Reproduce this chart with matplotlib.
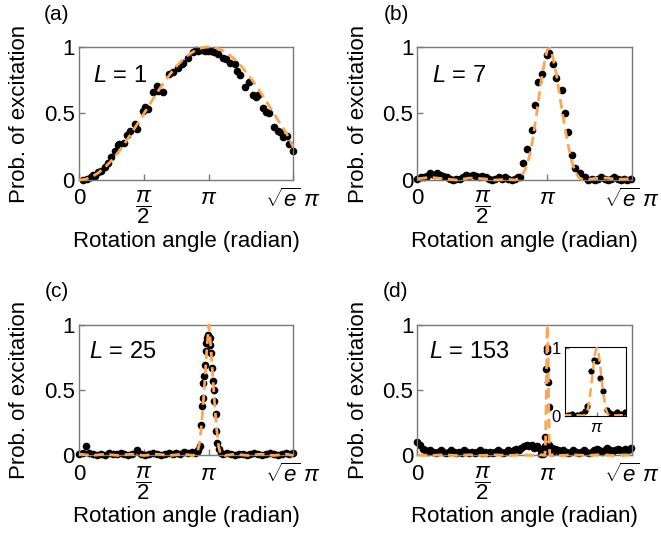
"""Four-panel excitation probability vs rotation angle (L = 1, 7, 25, 153)."""
import matplotlib
matplotlib.use("Agg")
import matplotlib.pyplot as plt
import numpy as np

plt.rcParams["font.family"] = ["Liberation Sans", "DejaVu Sans"]
plt.rcParams["mathtext.fontset"] = "custom"
plt.rcParams["mathtext.rm"] = "Liberation Sans"
plt.rcParams["mathtext.it"] = "Liberation Sans:italic"

ORANGE = "#ffa54f"
XMAX = np.sqrt(np.e)  # axis end, in units of pi

# ---- panel (a), L = 1 : angle in units of pi ----
a_x = [0.03, 0.06, 0.09, 0.11, 0.12, 0.15, 0.17, 0.2, 0.22, 0.25, 0.28, 0.3, 0.31,
       0.35, 0.37, 0.39, 0.43, 0.45, 0.49, 0.51, 0.53, 0.57, 0.6, 0.61, 0.65,
       0.69, 0.72, 0.76, 0.79, 0.8, 0.84, 0.88, 0.9, 0.92, 0.95, 0.97, 0.99,
       1.02, 1.04, 1.07, 1.11, 1.13, 1.16, 1.2, 1.22, 1.24, 1.28, 1.31, 1.34,
       1.36, 1.38, 1.42, 1.44, 1.46, 1.5, 1.53, 1.55, 1.57, 1.6, 1.62, 1.645]
a_y = [0.0, 0.005, 0.02, 0.04, 0.03, 0.06, 0.07, 0.1, 0.13, 0.17, 0.22, 0.26, 0.27,
       0.28, 0.34, 0.37, 0.42, 0.38, 0.52, 0.55, 0.53, 0.66, 0.71, 0.67, 0.66,
       0.8, 0.81, 0.84, 0.87, 0.88, 0.92, 0.96, 0.98, 0.97, 0.98, 0.97, 0.97,
       0.97, 0.96, 0.95, 0.92, 0.91, 0.88, 0.87, 0.82, 0.79, 0.7, 0.74, 0.64,
       0.62, 0.64, 0.54, 0.51, 0.5, 0.4, 0.37, 0.36, 0.32, 0.33, 0.27, 0.22]
a_fit_x = [0, 0.05, 0.1, 0.15, 0.2, 0.25, 0.3, 0.35, 0.4, 0.45, 0.5, 0.55, 0.6,
           0.65, 0.7, 0.75, 0.8, 0.85, 0.9, 0.95, 1.0, 1.05, 1.1, 1.15, 1.2,
           1.25, 1.3, 1.35, 1.4, 1.45, 1.5, 1.55, 1.6, 1.6487]
a_fit_y = [0, 0.006, 0.025, 0.055, 0.096, 0.146, 0.206, 0.273, 0.346, 0.422,
           0.5, 0.578, 0.655, 0.727, 0.794, 0.854, 0.905, 0.946, 0.976, 0.994,
           1.0, 0.994, 0.976, 0.946, 0.905, 0.854, 0.794, 0.727, 0.655, 0.578,
           0.5, 0.422, 0.346, 0.25]

# ---- panel (b), L = 7 ----
b_x = [0.0, 0.025, 0.05, 0.075, 0.1, 0.125, 0.15, 0.175, 0.2, 0.225, 0.25, 0.275,
       0.3, 0.325, 0.35, 0.375, 0.4, 0.425, 0.45, 0.475, 0.5, 0.525, 0.55, 0.575,
       0.6, 0.625, 0.65, 0.675, 0.7, 0.725, 0.75, 0.775,
       0.79, 0.815, 0.841, 0.88, 0.905, 0.931, 0.957, 0.995, 1.015, 1.041,
       1.067, 1.111, 1.136, 1.161, 1.188, 1.213, 1.252, 1.29,
       1.315, 1.34, 1.365, 1.39, 1.415, 1.44, 1.465, 1.49, 1.515, 1.54, 1.565,
       1.59, 1.615, 1.64]
b_y = [0.01, 0.02, 0.02, 0.03, 0.05, 0.04, 0.05, 0.04, 0.03, 0.02, 0.01, 0.0,
       0.01, 0.01, 0.02, 0.04, 0.03, 0.04, 0.03, 0.02, 0.03, 0.02, 0.01, 0.0,
       0.01, 0.02, 0.01, 0.02, 0.01, 0.0, 0.01, 0.02,
       0.025, 0.125, 0.235, 0.376, 0.564, 0.739, 0.8, 0.94, 0.957, 0.872,
       0.765, 0.677, 0.506, 0.363, 0.188, 0.088, 0.05, 0.02,
       0.0, 0.01, 0.0, 0.01, 0.02, 0.01, 0.0, 0.01, 0.02, 0.01, 0.0,
       0.01, 0.0, 0.01]
b_fit_x = [0, 0.1, 0.2, 0.3, 0.4, 0.5, 0.6, 0.7, 0.75, 0.78, 0.8, 0.83, 0.86,
           0.89, 0.92, 0.95, 0.98, 1.0, 1.02, 1.04, 1.07, 1.1, 1.13, 1.16, 1.19,
           1.22, 1.25, 1.28, 1.35, 1.45, 1.55, 1.6487]
b_fit_y = [0.01, 0.02, 0.01, 0.0, 0.015, 0.01, 0.0, 0.005, 0.0, 0.01, 0.03,
           0.08, 0.17, 0.32, 0.52, 0.73, 0.9, 0.98, 0.99, 0.93, 0.79, 0.6, 0.42,
           0.26, 0.13, 0.05, 0.01, 0.0, 0.01, 0.015, 0.005, 0.01]

# ---- panel (c), L = 25 ----
c_x = [0.0, 0.03, 0.056, 0.08, 0.11, 0.14, 0.17, 0.2, 0.23, 0.26, 0.29, 0.32,
       0.35, 0.38, 0.41, 0.45, 0.48, 0.51, 0.54, 0.57, 0.6, 0.63, 0.66, 0.69,
       0.72, 0.75, 0.78, 0.81, 0.84, 0.87, 0.89, 0.91, 0.92,
       0.933, 0.941, 0.948, 0.953, 0.958, 0.964, 0.969, 0.974, 0.979, 0.984,
       0.995, 1.005, 1.01, 1.018, 1.026, 1.031, 1.036, 1.043, 1.051, 1.057,
       1.064, 1.077, 1.09, 1.11, 1.14, 1.17, 1.2, 1.23, 1.26, 1.29, 1.32, 1.35,
       1.38, 1.41, 1.44, 1.47, 1.5, 1.53, 1.56, 1.59, 1.62, 1.645]
c_y = [0.01, 0.02, 0.07, 0.02, 0.01, 0.0, 0.01, 0.0, 0.02, 0.01, 0.01, 0.02,
       0.01, 0.0, 0.01, 0.04, 0.01, 0.0, 0.01, 0.02, 0.01, 0.0, 0.01, 0.02,
       0.01, 0.02, 0.01, 0.03, 0.02, 0.03, 0.02, 0.03, 0.04,
       0.072, 0.237, 0.378, 0.441, 0.556, 0.607, 0.696, 0.798, 0.862, 0.9,
       0.92, 0.9, 0.849, 0.786, 0.671, 0.569, 0.505, 0.416, 0.314, 0.187,
       0.097, 0.046, 0.02, 0.01, 0.02, 0.01, 0.0, 0.01, 0.01, 0.0, 0.01, 0.02,
       0.01, 0.0, 0.01, 0.02, 0.01, 0.0, 0.01, 0.02, 0.01, 0.02]
c_fit_x = [0, 0.1, 0.2, 0.3, 0.4, 0.5, 0.6, 0.7, 0.8, 0.88, 0.91, 0.925, 0.94,
           0.955, 0.97, 0.985, 1.0, 1.015, 1.03, 1.045, 1.06, 1.075, 1.09, 1.12,
           1.2, 1.3, 1.4, 1.5, 1.6, 1.6487]
c_fit_y = [0.01, 0.0, 0.01, 0.0, 0.01, 0.0, 0.01, 0.0, 0.01, 0.0, 0.02, 0.08,
           0.2, 0.38, 0.6, 0.83, 1.0, 0.83, 0.6, 0.38, 0.2, 0.07, 0.01, 0.0,
           0.01, 0.0, 0.01, 0.0, 0.01, 0.0]

# ---- panel (d), L = 153 ----
d_x = [0.0, 0.02, 0.04, 0.06, 0.08, 0.1, 0.12, 0.14, 0.16, 0.18, 0.2, 0.22,
       0.24, 0.26, 0.28, 0.3, 0.32, 0.34, 0.36, 0.38, 0.4, 0.42, 0.44, 0.46,
       0.48, 0.5, 0.52, 0.54, 0.56, 0.58, 0.6, 0.62, 0.64, 0.66, 0.68, 0.7,
       0.72, 0.74, 0.76, 0.78, 0.8, 0.82, 0.84, 0.86, 0.88, 0.9, 0.92, 0.94,
       0.953, 0.96, 0.967, 0.974, 0.98, 0.984, 0.99, 0.996, 1.0, 1.005, 1.01,
       1.016, 1.022, 1.028, 1.034, 1.04, 1.046,
       1.06, 1.08, 1.1, 1.12, 1.14, 1.16, 1.18, 1.2, 1.22, 1.24, 1.26, 1.28,
       1.3, 1.32, 1.34, 1.36, 1.38, 1.4, 1.42, 1.44, 1.46, 1.48, 1.5, 1.52,
       1.54, 1.56, 1.58, 1.6, 1.62, 1.64]
d_y = [0.1, 0.08, 0.05, 0.04, 0.03, 0.04, 0.03, 0.02, 0.03, 0.04, 0.03, 0.02,
       0.03, 0.04, 0.03, 0.02, 0.03, 0.02, 0.04, 0.03, 0.02, 0.03, 0.02, 0.03,
       0.04, 0.02, 0.03, 0.02, 0.03, 0.02, 0.03, 0.04, 0.03, 0.02, 0.03, 0.04,
       0.03, 0.04, 0.05, 0.04, 0.06, 0.07, 0.08, 0.07, 0.08, 0.06, 0.07, 0.05,
       0.01, 0.02, 0.01, 0.03, 0.07, 0.14, 0.66, 0.82, 0.8, 0.56, 0.37,
       0.08, 0.04, 0.03, 0.06, 0.03, 0.05,
       0.05, 0.04, 0.03, 0.04, 0.03, 0.02, 0.03, 0.04, 0.03, 0.02, 0.03, 0.04,
       0.03, 0.02, 0.03, 0.04, 0.05, 0.04, 0.03, 0.04, 0.06, 0.04, 0.03, 0.04,
       0.05, 0.04, 0.03, 0.05, 0.04, 0.06]
d_fit_x = [0, 0.1, 0.2, 0.3, 0.4, 0.5, 0.6, 0.7, 0.8, 0.9, 0.96, 0.978, 0.982,
           0.986, 0.99, 0.994, 0.997, 1.0, 1.003, 1.006, 1.01, 1.014, 1.018,
           1.022, 1.04, 1.1, 1.2, 1.3, 1.4, 1.5, 1.6, 1.6487]
d_fit_y = [0.005, 0.0, 0.005, 0.0, 0.005, 0.0, 0.005, 0.0, 0.005, 0.0, 0.005,
           0.0, 0.02, 0.12, 0.38, 0.7, 0.92, 1.0, 0.92, 0.7, 0.38, 0.12, 0.02,
           0.0, 0.005, 0.0, 0.005, 0.0, 0.005, 0.0, 0.005, 0.0]

panels = [
    ("(a)", "1", a_x, a_y, a_fit_x, a_fit_y),
    ("(b)", "7", b_x, b_y, b_fit_x, b_fit_y),
    ("(c)", "25", c_x, c_y, c_fit_x, c_fit_y),
    ("(d)", "153", d_x, d_y, d_fit_x, d_fit_y),
]
# axes rectangles in figure fractions
rects = [
    [0.1195, 0.666, 0.324, 0.247],
    [0.6316, 0.666, 0.324, 0.247],
    [0.1195, 0.155, 0.324, 0.242],
    [0.6316, 0.155, 0.324, 0.242],
]
letter_pos = [(0.086, 0.974), (0.599, 0.974), (0.086, 0.46), (0.599, 0.46)]
L_pos = [(0.065, 0.737), (0.067, 0.737), (0.047, 0.745), (0.055, 0.745)]

fig = plt.figure(figsize=(6.61, 5.39), dpi=100)


def style(ax, fs=16, ticklen=4, xpad=6):
    for s in ax.spines.values():
        s.set_color("#7a7a7a")
        s.set_linewidth(1.0)
    ax.tick_params(direction="in", length=ticklen, width=1.0, color="#7a7a7a",
                   labelsize=fs, pad=3)
    ax.tick_params(axis="x", pad=xpad)


for (letter, L, x, y, fx, fy), rect, lp, Lp in zip(panels, rects, letter_pos, L_pos):
    ax = fig.add_axes(rect)
    ax.plot(x, y, "o", color="black", ms=5.5, mew=0, clip_on=False, zorder=2)
    ax.plot(fx, fy, color=ORANGE, lw=2, dashes=(3.5, 2), clip_on=False, zorder=3)
    ax.set_xlim(0, XMAX)
    ax.set_ylim(0, 1)
    ax.set_xticks([0, 0.5, 1, XMAX])
    ax.set_xticklabels(["0", r"$\dfrac{\pi}{2}$", r"$\pi$", r"$\sqrt{e}\;\pi$"])
    ax.set_yticks([0, 0.5, 1])
    ax.set_yticklabels(["0", "0.5", "1"])
    style(ax)
    ax.set_ylabel("Prob. of excitation", fontsize=16)
    ax.yaxis.set_label_coords(-0.228, 0.5)
    ax.set_xlabel("Rotation angle (radian)", fontsize=16)
    ax.xaxis.set_label_coords(0.5, -0.385)
    ax.text(Lp[0], Lp[1], r"$L$ = " + L, transform=ax.transAxes, fontsize=17,
            va="baseline")
    fig.text(lp[0], lp[1], letter, fontsize=15, ha="center", va="center")

    if letter == "(d)":
        ins = fig.add_axes([0.855, 0.229, 0.092, 0.128])
        ins.plot(x, y, "o", color="black", ms=4.5, mew=0, zorder=2)
        ins.plot(fx, fy, color=ORANGE, lw=1.8, dashes=(3.5, 2), zorder=3)
        ins.set_xlim(0.948, 1.048)
        ins.set_ylim(0, 1.02)
        ins.set_xticks([1.0])
        ins.set_xticklabels([r"$\pi$"])
        ins.set_yticks([0, 1])
        ins.set_yticklabels(["0", "1"])
        style(ins, fs=12, ticklen=3, xpad=3)
        for s in ins.spines.values():
            s.set_color("black")
            s.set_linewidth(0.8)

fig.savefig("out.png", dpi=100)
